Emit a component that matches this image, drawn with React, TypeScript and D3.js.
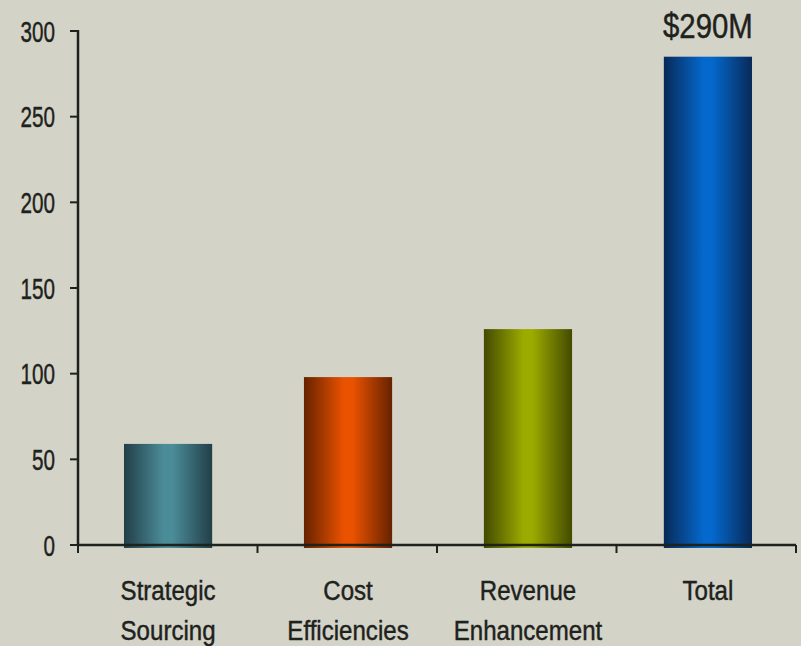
import React from "react";
import * as d3 from "d3";

const categories = ["Strategic Sourcing", "Cost Efficiencies", "Revenue Enhancement", "Total"];
const labelLines = [["Strategic", "Sourcing"], ["Cost", "Efficiencies"], ["Revenue", "Enhancement"], ["Total"]];
const values = [59, 98, 126, 285];
const yTicks = [0, 50, 100, 150, 200, 250, 300];
const totalLabel = "$290M";
const barColors = [
  { edge: "#223f48", mid: "#4b8c99" },
  { edge: "#662200", mid: "#ea5200" },
  { edge: "#434a00", mid: "#9cab00" },
  { edge: "#082a58", mid: "#0468cc" },
];

const W = 801, H = 646;
const x0 = 78, x1 = 796, yTop = 31, yBot = 545;
const FONT = "'Liberation Sans', Arial, sans-serif";
const INK = "#1e221c";

function T({ x, y, sx, size, anchor, children, ls }: any) {
  return (
    <text transform={`translate(${x} ${y}) scale(${sx} 1)`} textAnchor={anchor} fontFamily={FONT}
      fontSize={size} fill={INK} stroke={INK} strokeWidth={0.45} letterSpacing={ls || 0}>{children}</text>
  );
}

export default function App() {
  const x = d3.scaleBand<string>().domain(categories).range([x0 + 1, x1 + 1]).paddingInner(0.51).paddingOuter(0.25);
  const y = d3.scaleLinear().domain([0, 300]).range([yBot, yTop]);
  const band = (x1 - x0) / categories.length;
  const tickXs = categories.map((_, i) => x0 + i * band).concat([x1]);
  const cx = (c: string) => (x(c) as number) + x.bandwidth() / 2;
  return (
    <svg width={W} height={H} style={{ position: "absolute", left: 0, top: 0 }}>
      <defs>
        {barColors.map((c, i) => (
          <linearGradient id={`g${i}`} key={i} x1="0" x2="1" y1="0" y2="0">
            <stop offset="0" stopColor={c.edge} />
            <stop offset="0.45" stopColor={c.mid} />
            <stop offset="0.55" stopColor={c.mid} />
            <stop offset="1" stopColor={c.edge} />
          </linearGradient>
        ))}
      </defs>
      <rect width={W} height={H} fill="#d3d3c7" />
      {categories.map((c, i) => (
        <rect key={c} x={x(c)} width={x.bandwidth()} y={y(values[i])} height={y(0) - y(values[i]) + 3} fill={`url(#g${i})`} />
      ))}
      <line x1={x0} x2={x0} y1={yTop - 1} y2={yBot + 1} stroke={INK} strokeWidth={2.5} />
      <line x1={x0} x2={x1} y1={yBot} y2={yBot} stroke={INK} strokeWidth={2.5} />
      {yTicks.map((t) => (
        <g key={t}>
          <line x1={x0 - 8} x2={x0} y1={y(t)} y2={y(t)} stroke={INK} strokeWidth={2} />
          <T x={55} y={y(t) + 10.8} sx={0.69} size={30} anchor="end">{t}</T>
        </g>
      ))}
      {tickXs.map((tx, i) => (
        <line key={i} x1={tx} x2={tx} y1={yBot} y2={yBot + 8} stroke={INK} strokeWidth={2} />
      ))}
      {categories.map((c, i) => (
        <g key={c}>
          {labelLines[i].map((l, j) => (
            <T key={j} x={cx(c)} y={600 + j * 40} sx={0.86} size={28} anchor="middle">{l}</T>
          ))}
        </g>
      ))}
      <T x={cx("Total")} y={38} sx={0.84} size={35} anchor="middle">{totalLabel}</T>
    </svg>
  );
}
